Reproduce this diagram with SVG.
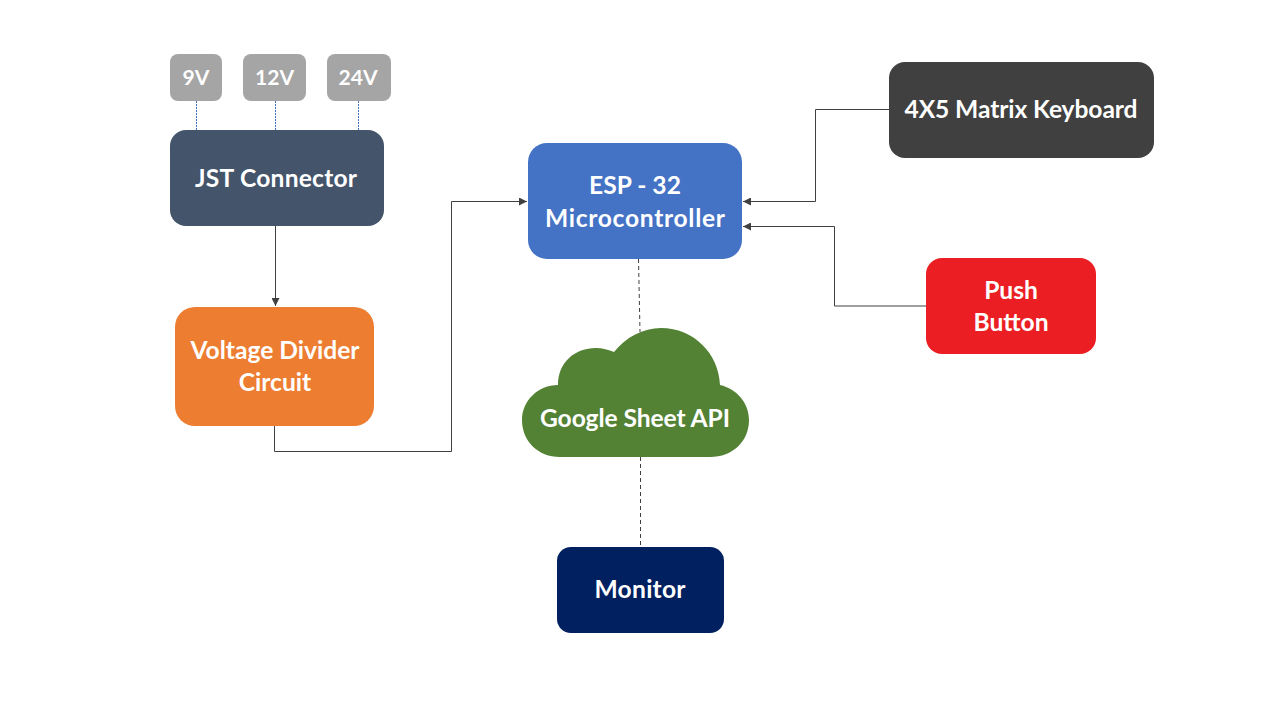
<svg xmlns="http://www.w3.org/2000/svg" width="1280" height="720" viewBox="0 0 1280 720">
<defs>
<marker id="arrow" markerUnits="userSpaceOnUse" markerWidth="9" markerHeight="8" refX="8" refY="4" orient="auto"><path d="M0,0 L8,4 L0,8 Z" fill="#404040"/></marker>
</defs>
<style>
text{font-family:"Lato","Liberation Sans",sans-serif;font-weight:700;fill:#fff;text-anchor:middle}
.t{font-size:24.600px}
.s{font-size:21px}
.c{fill:none;stroke:#404040;stroke-width:1}
.d{stroke-dasharray:4 3}
.b{fill:none;stroke:#4472c4;stroke-width:1;stroke-dasharray:2 1}
</style>
<rect width="1280" height="720" fill="#fff"/>
<g id="connectors">
<path class="b" d="M196.500 101V130M275.500 101V130M358.500 101V130"/>
<path class="c" d="M275.500 226V306" marker-end="url(#arrow)"/>
<path class="c" d="M274.500 426V451.500H451.500V201.500H527" marker-end="url(#arrow)"/>
<path class="c" d="M889 109.500H815.500V201.500H743" marker-end="url(#arrow)"/>
<path class="c" d="M926 306H834.500V226.500H743" marker-end="url(#arrow)"/>
<path class="c d" d="M638.500 259L640 332"/>
<path class="c d" d="M640.500 457V547"/>
</g>
<g id="n9v"><rect x="170" y="54" width="52" height="47" rx="8" fill="#a5a5a5"/><text class="s" x="196" y="85">9V</text></g>
<g id="n12v"><rect x="243" y="54" width="63" height="47" rx="8" fill="#a5a5a5"/><text class="s" x="274.500" y="85">12V</text></g>
<g id="n24v"><rect x="327" y="54" width="64" height="47" rx="8" fill="#a5a5a5"/><text class="s" x="358" y="85">24V</text></g>
<g id="jst"><rect x="170" y="130" width="214" height="96" rx="16" fill="#44546a"/><text class="t" x="276" y="187" textLength="162">JST Connector</text></g>
<g id="divider"><rect x="175" y="307" width="199" height="119" rx="20" fill="#ed7d31"/><text class="t" x="275" y="359" textLength="169">Voltage Divider</text><text class="t" x="275" y="391">Circuit</text></g>
<g id="esp"><rect x="528" y="143" width="214" height="116" rx="19" fill="#4472c4"/><text class="t" x="635" y="194">ESP - 32</text><text class="t" x="635" y="227" textLength="180">Microcontroller</text></g>
<g id="keyboard"><rect x="889" y="62" width="265" height="96" rx="16" fill="#404040"/><text class="t" x="1021" y="118" textLength="233">4X5 Matrix Keyboard</text></g>
<g id="button"><rect x="926" y="258" width="170" height="96" rx="16" fill="#eb1f23"/><text class="t" x="1011" y="299">Push</text><text class="t" x="1011" y="331">Button</text></g>
<g id="cloud"><path d="M558 385C558 362 575 348 596 348C602 348 609 350 614 352C626 337 643 328 661 328C694 328 719 354 720 385C737 389 749 403 749 420C749 441 733 457 710 457H560C538 457 522 441 522 420C522 401 538 385 558 385Z" fill="#548235"/><text class="t" x="635" y="427" textLength="190">Google Sheet API</text></g>
<g id="monitor"><rect x="557" y="547" width="167" height="86" rx="14" fill="#002060"/><text class="t" x="640" y="598" textLength="91">Monitor</text></g>
</svg>
